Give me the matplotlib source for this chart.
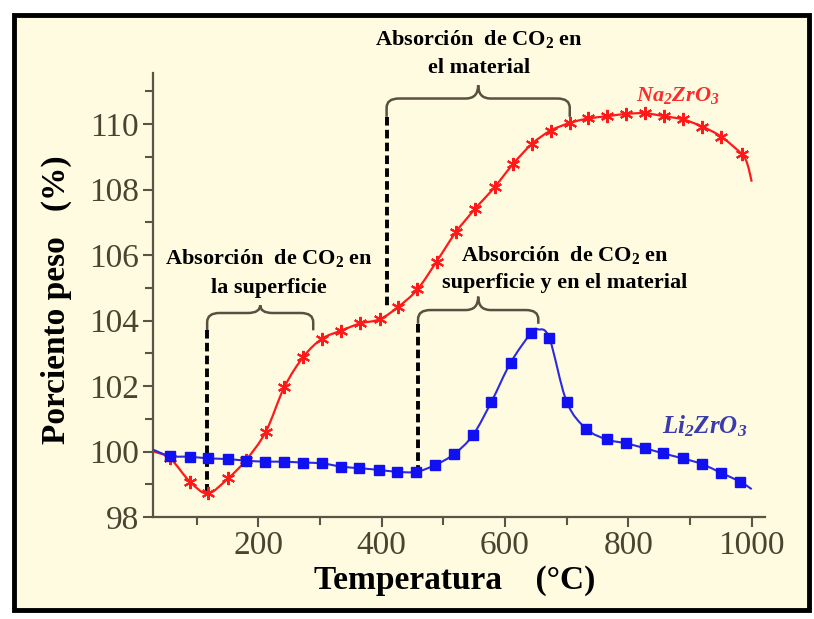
import matplotlib
matplotlib.use("Agg")
import matplotlib.pyplot as plt
from matplotlib.patches import Rectangle, PathPatch
from matplotlib.path import Path
from matplotlib.ticker import FixedLocator

plt.rcParams['font.family'] = ['Liberation Serif', 'DejaVu Serif']
plt.rcParams['mathtext.fontset'] = 'custom'
plt.rcParams['mathtext.rm'] = 'Liberation Serif'
plt.rcParams['mathtext.bf'] = 'Liberation Serif:bold'
plt.rcParams['mathtext.it'] = 'Liberation Serif:italic'
plt.rcParams['mathtext.bfit'] = 'Liberation Serif:italic:bold'

# ---- data: thermogravimetric CO2 uptake ----
na_temp = [30, 57, 89, 118, 151, 180, 212, 242, 273, 303, 334, 365, 397, 427,
           458, 489, 520, 551, 583, 613, 644, 674, 706, 735, 766, 796, 827, 858,
           889, 920, 951, 984, 993, 1000]
na_weight = [100.0, 99.79, 99.08, 98.72, 99.18, 99.74, 100.60, 101.96, 102.89,
             103.44, 103.69, 103.91, 104.04, 104.42, 104.95, 105.80, 106.69,
             107.40, 108.07, 108.78, 109.40, 109.80, 110.04, 110.17, 110.24,
             110.31, 110.33, 110.24, 110.14, 109.92, 109.61, 109.08, 108.78, 108.24]
na_marked = list(range(1, 32))

li_temp = [30, 57, 89, 119, 150, 180, 211, 242, 273, 303, 334, 364, 395, 425,
           456, 487, 518, 548, 578, 609, 642, 654, 672, 700, 732, 765, 796, 827,
           857, 888, 919, 950, 981, 1000]
li_weight = [100.05, 99.86, 99.84, 99.79, 99.77, 99.72, 99.69, 99.69, 99.66,
             99.64, 99.54, 99.49, 99.44, 99.38, 99.38, 99.59, 99.93, 100.50,
             101.52, 102.71, 103.61, 103.73, 103.46, 101.52, 100.69, 100.37,
             100.25, 100.10, 99.94, 99.79, 99.62, 99.35, 99.08, 98.85]
li_marked = [i for i in range(1, 33) if i != 21]

x_ticks = [200, 400, 600, 800, 1000]
x_tick_labels = ['200', '400', '600', '800', '1000']
y_ticks = [98, 100, 102, 104, 106, 108, 110]
y_tick_labels = ['98', '100', '102', '104', '106', '108', '110']

# absorption regions: brace span, brace level, dashed guide end
region_start = [117, 408, 459]
region_end = [289, 705, 654]
brace_level = [104.23, 110.78, 104.32]
brace_tip = [104.47, 111.19, 104.73]
brace_foot = [103.70, 110.22, 103.90]
guide_bottom = [98.74, 104.42, 99.42]
region_line1 = ['Absorción  de CO$_\\mathbf{2}$ en'] * 3
region_line2 = ['la superficie', 'el material', 'superficie y en el material']
label_x = [217, 558, 697]
label_y1 = [105.72, 112.41, 105.83]
label_y2 = [104.85, 111.57, 104.98]

cream = '#fffbe0'
spine_col = '#5a5446'
tick_col = '#4b4230'
brace_col = '#5b5040'


def smooth_path(xs, ys):
    """Catmull-Rom style cubic Bezier path through the given points."""
    pts = list(zip(xs, ys))
    n = len(pts)
    verts = [pts[0]]
    codes = [Path.MOVETO]
    for i in range(n - 1):
        p0 = pts[i - 1] if i > 0 else pts[i]
        p1 = pts[i]
        p2 = pts[i + 1]
        p3 = pts[i + 2] if i + 2 < n else pts[i + 1]
        c1 = (p1[0] + (p2[0] - p0[0]) / 6, p1[1] + (p2[1] - p0[1]) / 6)
        c2 = (p2[0] - (p3[0] - p1[0]) / 6, p2[1] - (p3[1] - p1[1]) / 6)
        verts += [c1, c2, p2]
        codes += [Path.CURVE4] * 3
    return Path(verts, codes)


fig = plt.figure(figsize=(8.14, 6.19), dpi=100)
fig.patch.set_facecolor('white')
fig.add_artist(Rectangle((14 / 814, 1 - 610 / 619), (809 - 14) / 814, (610 - 15) / 619,
                         transform=fig.transFigure, facecolor=cream,
                         edgecolor='black', lw=3.5, zorder=0))

ax = fig.add_axes([152.7 / 814, (619 - 517) / 619, (765 - 152.7) / 814, (517 - 73.3) / 619])
ax.patch.set_alpha(0)
ax.set_xlim(28.7, 1021.6)
ax.set_ylim(98, 111.55)

for s in ('top', 'right'):
    ax.spines[s].set_visible(False)
for s in ('left', 'bottom'):
    ax.spines[s].set_color(spine_col)
    ax.spines[s].set_linewidth(1.6)

ax.xaxis.set_major_locator(FixedLocator(x_ticks))
ax.set_xticklabels(x_tick_labels)
ax.xaxis.set_minor_locator(FixedLocator([100, 300, 500, 700, 900]))
ax.yaxis.set_major_locator(FixedLocator(y_ticks))
ax.set_yticklabels(y_tick_labels)
ax.yaxis.set_minor_locator(FixedLocator([99, 101, 103, 105, 107, 109, 111]))
ax.tick_params(which='both', direction='out', color=spine_col, width=1.5)
ax.tick_params(which='major', length=7, labelsize=24, labelcolor=tick_col, pad=3)
ax.tick_params(which='minor', length=6)

# curves: smooth line plus markers at the measured points
ax.add_patch(PathPatch(smooth_path(na_temp, na_weight), facecolor='none',
                       edgecolor='#ff1a1a', lw=1.6, zorder=3))
ax.plot([na_temp[i] for i in na_marked], [na_weight[i] for i in na_marked],
        ls='none', color='#ff1a1a', marker=(6, 2, 0), markersize=9.5,
        markeredgewidth=1.5, zorder=3)
ax.add_patch(PathPatch(smooth_path(li_temp, li_weight), facecolor='none',
                       edgecolor='#2a2ae0', lw=1.5, zorder=4))
ax.plot([li_temp[i] for i in li_marked], [li_weight[i] for i in li_marked],
        ls='none', marker='s', markersize=7, markerfacecolor='#1010f0',
        markeredgecolor='#1010f0', zorder=4)

# braces with dashed guides
rx, ry, nx = 20, 0.28, 20
for x0, x1, y, tip, foot, gb in zip(region_start, region_end, brace_level,
                                     brace_tip, brace_foot, guide_bottom):
    xc = (x0 + x1) / 2
    verts = [(x0, foot), (x0, y - ry), (x0, y), (x0 + rx, y),
             (xc - nx, y), (xc, y), (xc, tip),
             (xc, y), (xc + nx, y),
             (x1 - rx, y), (x1, y), (x1, y - ry), (x1, foot)]
    codes = [Path.MOVETO, Path.LINETO, Path.CURVE3, Path.CURVE3,
             Path.LINETO, Path.CURVE3, Path.CURVE3,
             Path.CURVE3, Path.CURVE3,
             Path.LINETO, Path.CURVE3, Path.CURVE3, Path.LINETO]
    ax.add_patch(PathPatch(Path(verts, codes), facecolor='none',
                           edgecolor=brace_col, lw=1.8, clip_on=False, zorder=2))
    ax.plot([x0, x0], [foot, gb], color='black', lw=2.8,
            ls=(0, (2.2, 1.1)), zorder=2, clip_on=False)

for lx, y1, y2, t1, t2 in zip(label_x, label_y1, label_y2, region_line1, region_line2):
    ax.text(lx, y1, t1, ha='center', va='baseline', fontsize=16,
            fontweight='bold', color='black', clip_on=False)
    ax.text(lx, y2, t2, ha='center', va='baseline', fontsize=16,
            fontweight='bold', color='black', clip_on=False)

ax.text(880, 110.70, r'$\mathbfit{Na_2ZrO_3}$', ha='center', va='baseline',
        fontsize=16, color='#ff2a2a', clip_on=False)
ax.text(924, 100.56, r'$\mathbfit{Li_2ZrO_3}$', ha='center', va='baseline',
        fontsize=18, color='#3b3bb0', clip_on=False)

fig.text(455 / 814, 1 - 580 / 619, 'Temperatura    (°C)', ha='center', va='center',
         fontsize=24, fontweight='bold')
fig.text(56 / 814, 1 - 300 / 619, 'Porciento peso   (%)', ha='center', va='center',
         fontsize=24, fontweight='bold', rotation=90)

fig.savefig('out.png', dpi=100, facecolor=fig.get_facecolor())
